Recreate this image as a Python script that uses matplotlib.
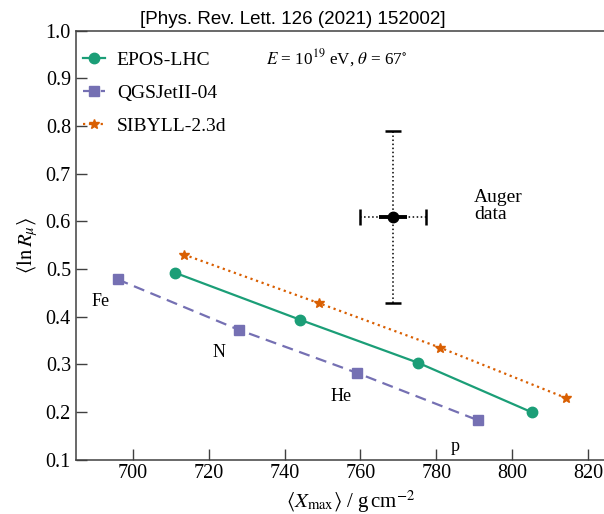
"""
Mean muon content <ln R_mu> versus <Xmax> for three hadronic interaction
models (p, He, N, Fe primaries) compared with the Auger measurement.
"""

import matplotlib
matplotlib.use("Agg")
import matplotlib.pyplot as plt

plt.rcParams["font.family"] = ["Liberation Serif", "DejaVu Serif"]
plt.rcParams["mathtext.fontset"] = "stix"

# Simulated points, ordered Fe, N, He, p
EPOS_X = [711.1, 744.2, 775.2, 805.2]
EPOS_Y = [0.492, 0.393, 0.303, 0.199]
QGS_X = [696.0, 728.0, 759.0, 791.1]
QGS_Y = [0.478, 0.372, 0.282, 0.182]
SIB_X = [713.5, 749.1, 780.9, 814.2]
SIB_Y = [0.530, 0.428, 0.335, 0.229]

# Auger measurement: central value, statistical and systematic errors
AUGER_X, AUGER_Y = 768.6, 0.609
AUGER_STAT_X, AUGER_STAT_Y = 3.7, 0.01
AUGER_SYS_X, AUGER_SYS_Y = 8.8, 0.18

PRIMARIES = ["Fe", "N", "He", "p"]
PRIMARY_X = [691.4, 722.6, 754.9, 785.0]
PRIMARY_Y = [0.432, 0.325, 0.233, 0.127]

GREEN, PURPLE, ORANGE = "#1b9e77", "#7570b3", "#d95f02"


def main() -> None:
    fig = plt.figure(figsize=(6.04, 5.14), dpi=100)
    ax = fig.add_axes([0.1255, 0.106, 0.911, 0.8345])

    ax.plot(EPOS_X, EPOS_Y, "-o", color=GREEN, lw=1.6, ms=7.5, label="EPOS-LHC")
    ax.plot(QGS_X, QGS_Y, "--s", color=PURPLE, lw=1.6, ms=7, dashes=(5, 3),
            label="QGSJetII-04")
    ax.plot(SIB_X, SIB_Y, ":*", color=ORANGE, lw=1.6, ms=7.5, label="SIBYLL-2.3d")

    # systematic uncertainty: dotted with caps
    eb = ax.errorbar(AUGER_X, AUGER_Y, xerr=AUGER_SYS_X, yerr=AUGER_SYS_Y,
                     fmt="none", ecolor="k", elinewidth=1.1, capsize=6, capthick=1.8)
    for col in eb[2]:
        col.set_linestyle(":")
    # statistical uncertainty: thick solid
    ax.errorbar(AUGER_X, AUGER_Y, xerr=AUGER_STAT_X, yerr=AUGER_STAT_Y,
                fmt="o", color="k", ms=7.5, elinewidth=2.8, capsize=0)

    for name, x, y in zip(PRIMARIES, PRIMARY_X, PRIMARY_Y):
        ax.text(x, y, name, fontsize=13, ha="center", va="center")

    ax.text(790, 0.632, "Auger\ndata", fontsize=14, ha="left", va="center",
            linespacing=1.0)
    ax.text(753.8, 0.942, r"$E$ = 10$^{19}$ eV, $\theta$ = 67$^{\circ}$",
            fontsize=12.3, ha="center", va="center")

    ax.set_xlim(685, 830)
    ax.set_ylim(0.1, 1.0)
    ax.set_xticks([700, 720, 740, 760, 780, 800, 820])
    ax.set_yticks([0.1, 0.2, 0.3, 0.4, 0.5, 0.6, 0.7, 0.8, 0.9, 1.0])
    ax.tick_params(direction="in", length=8, width=1, labelsize=14.5,
                   color="0.25", top=False, right=False)
    for side in ("left", "bottom", "top"):
        ax.spines[side].set_linewidth(1.1)
        ax.spines[side].set_color("0.25")
    ax.spines["right"].set_visible(False)

    ax.set_xlabel(r"$\langle X_{\mathrm{max}}\rangle$ / g$\,$cm$^{-2}$", fontsize=15)
    ax.set_ylabel(r"$\langle \ln R_{\mu} \rangle$", fontsize=15, labelpad=4)

    ax.legend(loc="upper left", bbox_to_anchor=(-0.005, 0.975), frameon=False,
              fontsize=14, handlelength=1.15, handletextpad=0.6,
              labelspacing=0.8, borderaxespad=0.2, borderpad=0.3)

    fig.text(0.485, 0.962, "[Phys. Rev. Lett. 126 (2021) 152002]",
             fontsize=13.5, family="Liberation Sans", ha="center", va="center")

    fig.savefig("out.png", dpi=100)
    plt.close(fig)


if __name__ == "__main__":
    main()
